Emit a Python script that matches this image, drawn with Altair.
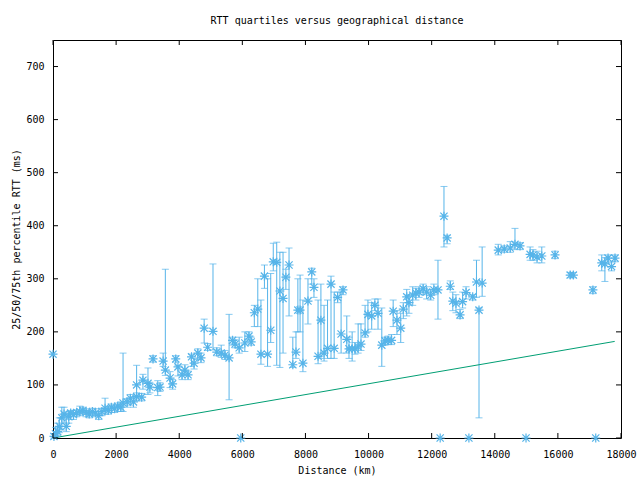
import altair as alt
import pandas as pd

# distance (km), median / 25th / 75th percentile RTT (ms)
dist = [0, 30, 80, 150, 200, 280, 350, 420, 500, 560, 650, 750, 850, 950,
        1050, 1150, 1250, 1350, 1450, 1550, 1650, 1750, 1850, 1950, 2050, 2150,
        2220, 2350, 2450, 2550, 2650, 2650, 2810, 2850, 3010, 3070, 3170, 3320,
        3390, 3490, 3560, 3710, 3790, 3890, 3960, 4090, 4180, 4280, 4390, 4470,
        4590, 4690, 4790, 4900, 5070, 5190, 5330, 5450, 5580, 5690, 5770, 5900,
        5950, 6080, 6210, 6280, 6380, 6490, 6590, 6700, 6800, 6900, 6980, 7090,
        7190, 7290, 7380, 7480, 7600, 7700, 7760, 7830, 7920, 8080, 8200, 8270,
        8400, 8490, 8590, 8700, 8810, 8910, 9020, 9130, 9190, 9310, 9380, 9480,
        9570, 9670, 9760, 9890, 9980, 10100, 10200, 10300, 10420, 10520, 10620,
        10730, 10780, 10900, 11020, 11100, 11210, 11280, 11400, 11500, 11600,
        11730, 11840, 11970, 12070, 12200, 12270, 12390, 12490, 12590, 12670,
        12770, 12900, 12980, 13090, 13180, 13300, 13420, 13500, 13600, 14110,
        14300, 14490, 14640, 14800, 14990, 15120, 15210, 15340, 15490, 15910,
        16390, 16490, 17110, 17200, 17390, 17490, 17590, 17700, 17810]
p50 = [158, 3, 8, 12, 22, 38, 45, 22, 40, 47, 44, 48, 50, 52,
       48, 45, 50, 47, 42, 50, 56, 52, 58, 55, 60, 58,
       66, 68, 75, 68, 100, 78, 77, 109, 103, 96, 149, 95,
       96, 145, 128, 113, 102, 149, 134, 119, 128, 119, 153, 141,
       160, 151, 207, 171, 201, 162, 160, 156, 151, 184, 177, 170,
       0, 179, 192, 181, 236, 243, 158, 305, 158, 203, 332, 331,
       277, 263, 303, 326, 138, 162, 241, 241, 141, 258, 313, 284,
       154, 222, 160, 169, 290, 169, 265, 196, 279, 186, 168, 168,
       168, 172, 177, 198, 233, 230, 250, 235, 175, 183, 184,
       184, 239, 222, 207, 243, 266, 255, 269, 273, 275,
       281, 275, 269, 279, 279, 0, 418, 377, 286, 258,
       254, 232, 257, 274, 0, 266, 294, 241, 292, 354,
       356, 358, 365, 362, 0, 346, 345, 341, 343, 345,
       307, 307, 279, 0, 330, 328, 339, 323, 339]
p25 = [158, 0, 2, 5, 10, 15, 28, 12, 28, 35, 35, 40, 42, 45,
       40, 38, 42, 40, 35, 42, 45, 45, 48, 48, 50, 50,
       50, 58, 62, 58, 80, 70, 70, 92, 82, 85, 143, 80,
       88, 135, 118, 95, 92, 143, 117, 110, 118, 110, 135, 130,
       148, 142, 179, 165, 166, 155, 152, 148, 72, 175, 170, 160,
       0, 163, 185, 175, 210, 210, 139, 282, 135, 180, 315, 137,
       133, 160, 280, 230, 133, 150, 200, 200, 125, 215, 290, 265,
       140, 150, 145, 150, 150, 150, 255, 160, 270, 160, 150, 145,
       158, 160, 165, 190, 200, 205, 240, 205, 135, 175, 176,
       176, 210, 195, 180, 225, 230, 235, 250, 260, 265,
       270, 262, 260, 270, 224, 0, 360, 366, 280, 240,
       236, 225, 245, 262, 0, 260, 265, 38, 267, 345,
       350, 350, 355, 355, 0, 335, 335, 330, 330, 338,
       302, 302, 272, 0, 315, 295, 330, 315, 332]
p75 = [158, 8, 20, 28, 38, 58, 58, 45, 50, 52, 52, 53, 60, 58,
       55, 52, 56, 55, 50, 56, 75, 60, 64, 62, 66, 68,
       160, 74, 82, 76, 137, 85, 84, 120, 132, 105, 155, 108,
       104, 160, 318, 125, 110, 155, 137, 128, 138, 126, 158, 150,
       168, 160, 224, 178, 328, 170, 175, 165, 233, 190, 185, 190,
       0, 200, 200, 190, 250, 300, 260, 326, 300, 310, 367, 369,
       350, 350, 318, 358, 190, 200, 300, 307, 260, 300, 320, 300,
       260, 290, 250, 260, 305, 275, 275, 275, 285, 230, 190, 200,
       180, 215, 215, 250, 260, 255, 262, 262, 245, 190, 192,
       195, 260, 240, 235, 255, 280, 270, 285, 282, 285,
       290, 285, 280, 290, 335, 0, 474, 382, 296, 275,
       270, 242, 275, 285, 0, 270, 335, 245, 360, 365,
       362, 370, 395, 368, 0, 360, 355, 352, 360, 352,
       312, 312, 285, 0, 345, 340, 345, 332, 345]

# reference line (speed-of-light-in-fibre bound)
line_dist = [0, 17800]
line_rtt = [0, 182]

x_ticks = list(range(0, 18001, 2000))
y_ticks = list(range(0, 701, 100))

df = pd.DataFrame({"dist": dist, "p25": p25, "p50": p50, "p75": p75})
bars = df[df["p75"] > df["p25"]]
line_df = pd.DataFrame({"dist": line_dist, "rtt": line_rtt})
xt_df = pd.DataFrame({"dist": x_ticks})
yt_df = pd.DataFrame({"p50": y_ticks})

BLUE = "#56b4e9"
GREEN = "#009e73"
FONT = "DejaVu Sans Mono"
W, H = 568, 398
TL = 5

xs = alt.Scale(domain=[0, 18000], nice=False, zero=False)
ys = alt.Scale(domain=[0, 750], nice=False, zero=False)

x_axis = alt.Axis(values=x_ticks, format="d", ticks=False, tickSize=0, domain=False, grid=False,
                  labelFont=FONT, labelFontSize=10, labelColor="black",
                  labelPadding=11, labelFlush=False,
                  title="Distance (km)", titleFont=FONT, titleFontSize=10,
                  titleFontWeight="normal", titleColor="black",
                  titleY=32, titleBaseline="middle")
y_axis = alt.Axis(values=y_ticks, format="d", ticks=False, tickSize=0, domain=False, grid=False,
                  labelFont=FONT, labelFontSize=10, labelColor="black",
                  labelPadding=9, labelFlush=False,
                  title="25/50/75th percentile RTT (ms)", titleFont=FONT,
                  titleFontSize=10, titleFontWeight="normal", titleColor="black",
                  titleX=-37, titleY=H / 2, titleAngle=270,
                  titleAlign="center", titleBaseline="middle")

X = lambda f: alt.X(f, scale=xs, axis=x_axis, title="Distance (km)")
Y = lambda f: alt.Y(f, scale=ys, axis=y_axis, title="25/50/75th percentile RTT (ms)")

rules = alt.Chart(bars).mark_rule(color=BLUE, strokeWidth=1).encode(
    x=X("dist:Q"), y=Y("p25:Q"), y2="p75:Q",
)
cap_lo = alt.Chart(bars).mark_tick(color=BLUE, orient="horizontal", size=7, thickness=1).encode(
    x=X("dist:Q"), y=Y("p25:Q"),
)
cap_hi = alt.Chart(bars).mark_tick(color=BLUE, orient="horizontal", size=7, thickness=1).encode(
    x=X("dist:Q"), y=Y("p75:Q"),
)
star = "M-1,0H1M0,-1V1M-0.8,-0.8L0.8,0.8M-0.8,0.8L0.8,-0.8"
points = alt.Chart(df).mark_point(shape=star, size=81, color=BLUE, filled=False,
                                  strokeWidth=1.2, opacity=1).encode(
    x=X("dist:Q"), y=Y("p50:Q"),
)
line = alt.Chart(line_df).mark_line(color=GREEN, strokeWidth=1).encode(
    x=X("dist:Q"), y=Y("rtt:Q"),
)

xb = alt.Chart(xt_df).mark_rule(color="black").encode(
    x=X("dist:Q"), y=alt.value(H), y2=alt.value(H - TL))
xtop = alt.Chart(xt_df).mark_rule(color="black").encode(
    x=X("dist:Q"), y=alt.value(0), y2=alt.value(TL))
yl = alt.Chart(yt_df).mark_rule(color="black").encode(
    y=Y("p50:Q"), x=alt.value(0), x2=alt.value(TL))
yr = alt.Chart(yt_df).mark_rule(color="black").encode(
    y=Y("p50:Q"), x=alt.value(W), x2=alt.value(W - TL))

chart = alt.layer(rules, cap_lo, cap_hi, line, points, xb, xtop, yl, yr).properties(
    width=W, height=H,
    title=alt.TitleParams("RTT quartiles versus geographical distance", font=FONT,
                          fontSize=10, fontWeight="normal", color="black",
                          anchor="middle", offset=14),
    padding={"left": 53, "top": 40, "right": 19, "bottom": 42},
    autosize=alt.AutoSizeParams(type="none"),
    background="white",
).configure_view(stroke="black", strokeWidth=1)

chart.save("out.html", embed_options={"renderer": "svg", "actions": False})
